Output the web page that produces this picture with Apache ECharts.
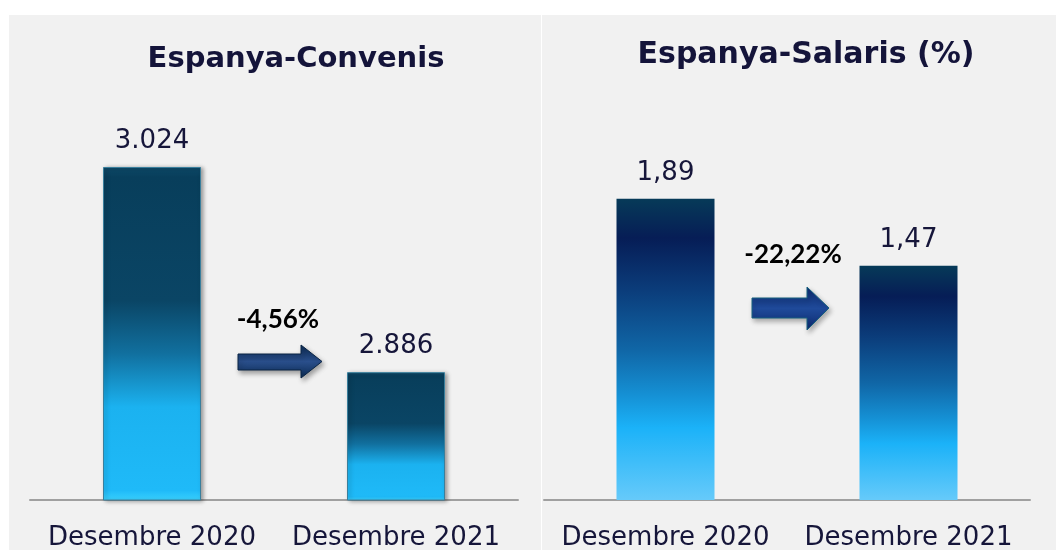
<!DOCTYPE html>
<html>
<head>
<meta charset="utf-8">
<script src="https://cdn.jsdelivr.net/npm/echarts@6/dist/echarts.min.js"></script>
<style>
  html, body { margin: 0; padding: 0; background: #ffffff; }
  #chart { width: 1056px; height: 550px; }
</style>
</head>
<body>
<div id="chart"></div>
<script>
// dades
let categories = ['Desembre 2020', 'Desembre 2021'];
let convenisValues = [3024, 2886];
let salarisValues = [1.89, 1.47];
let titles = ['Espanya-Convenis', 'Espanya-Salaris (%)'];
let changeLabels = ['-4,56%', '-22,22%'];

let textColor = '#16163a';

// format català: 3.024 / 1,89
function fmtThousands(v) {
    return String(v).replace(/\B(?=(\d{3})+(?!\d))/g, '.');
}
function fmtDecimal(v) {
    return v.toFixed(2).replace('.', ',');
}

// degradat barres convenis (amb bisell)
let convenisColor = new echarts.graphic.LinearGradient(0, 0, 0, 1, [
    {offset: 0, color: '#0e4a69'},
    {offset: 0.03, color: '#083e5b'},
    {offset: 0.40, color: '#0a4565'},
    {offset: 0.56, color: '#11709f'},
    {offset: 0.72, color: '#1bb2f0'},
    {offset: 0.97, color: '#1fbaf8'},
    {offset: 1, color: '#3ad2ff'}
]);

// degradat barres salaris
let salarisColor = new echarts.graphic.LinearGradient(0, 0, 0, 1, [
    {offset: 0, color: '#063a58'},
    {offset: 0.13, color: '#061d56'},
    {offset: 0.30, color: '#0b3c7a'},
    {offset: 0.50, color: '#1066a6'},
    {offset: 0.65, color: '#1590d4'},
    {offset: 0.76, color: '#1bb2f8'},
    {offset: 1, color: '#66cafa'}
]);

function arrowFill(a, b) {
    return new echarts.graphic.LinearGradient(0, 0, 0, 1, [
        {offset: 0, color: a},
        {offset: 0.5, color: b},
        {offset: 1, color: a}
    ]);
}

let axisLabelStyle = {
    interval: 0,
    fontFamily: 'DejaVu Sans',
    fontSize: 26,
    lineHeight: 26,
    color: textColor,
    margin: 25
};

let valueLabelStyle = {
    show: true,
    position: 'top',
    distance: 13,
    fontFamily: 'DejaVu Sans',
    fontSize: 26,
    lineHeight: 26,
    color: textColor
};

let option = {
    backgroundColor: '#ffffff',
    animation: false,
    grid: [
        {left: 30, width: 488, top: 54, bottom: 50, outerBoundsMode: 'none', containLabel: false},
        {left: 544, width: 486, top: 22, bottom: 50, outerBoundsMode: 'none', containLabel: false}
    ],
    xAxis: [
        {
            gridIndex: 0, type: 'category', data: categories,
            axisLine: {lineStyle: {color: '#a0a0a0', width: 2}},
            axisTick: {show: false},
            axisLabel: axisLabelStyle
        },
        {
            gridIndex: 1, type: 'category', data: categories,
            axisLine: {lineStyle: {color: '#a0a0a0', width: 2}},
            axisTick: {show: false},
            axisLabel: axisLabelStyle
        }
    ],
    yAxis: [
        {gridIndex: 0, type: 'value', min: 2800, max: 3100, show: false, splitLine: {show: false}},
        {gridIndex: 1, type: 'value', min: 0, max: 3, show: false, splitLine: {show: false}}
    ],
    series: [
        {
            type: 'bar',
            xAxisIndex: 0,
            yAxisIndex: 0,
            data: convenisValues,
            barWidth: 98,
            itemStyle: {
                color: convenisColor,
                borderColor: '#3a7f9c',
                borderWidth: 1,
                shadowColor: 'rgba(0,0,0,0.35)',
                shadowBlur: 4,
                shadowOffsetX: 2,
                shadowOffsetY: 1
            },
            label: Object.assign({}, valueLabelStyle, {
                formatter: function (p) { return fmtThousands(p.value); }
            })
        },
        {
            type: 'bar',
            xAxisIndex: 1,
            yAxisIndex: 1,
            data: salarisValues,
            barWidth: 98,
            itemStyle: {color: salarisColor},
            label: Object.assign({}, valueLabelStyle, {
                formatter: function (p) { return fmtDecimal(p.value); }
            })
        }
    ],
    graphic: [
        // panells de fons
        {type: 'rect', z: -10, silent: true, shape: {x: 9, y: 15, width: 532, height: 535}, style: {fill: '#f1f1f1'}},
        {type: 'rect', z: -10, silent: true, shape: {x: 542, y: 15, width: 514, height: 535}, style: {fill: '#f1f1f1'}},
        // títols
        {type: 'text', x: 296, y: 59, style: {text: titles[0], fontFamily: 'DejaVu Sans', fontWeight: 'bold', fontSize: 29, fill: '#14143a', align: 'center', verticalAlign: 'middle'}},
        {type: 'text', x: 806, y: 55, style: {text: titles[1], fontFamily: 'DejaVu Sans', fontWeight: 'bold', fontSize: 30, fill: '#14143a', align: 'center', verticalAlign: 'middle'}},
        // variacions
        {type: 'text', x: 278, y: 320, style: {text: changeLabels[0], fontFamily: 'Lato', fontWeight: 'bold', fontSize: 26, fill: '#000000', align: 'center', verticalAlign: 'middle'}},
        {type: 'text', x: 793, y: 255, style: {text: changeLabels[1], fontFamily: 'Lato', fontWeight: 'bold', fontSize: 26, fill: '#000000', align: 'center', verticalAlign: 'middle'}},
        // fletxes
        {
            type: 'polygon',
            shape: {points: [[238, 354], [301, 354], [301, 345], [322, 361.5], [301, 378], [301, 370], [238, 370]]},
            style: {
                fill: arrowFill('#0b2a52', '#2a4f8c'),
                stroke: '#0a2444',
                lineWidth: 1,
                shadowColor: 'rgba(0,0,0,0.35)',
                shadowBlur: 5,
                shadowOffsetX: 2,
                shadowOffsetY: 3
            }
        },
        {
            type: 'polygon',
            shape: {points: [[752, 298], [807, 298], [807, 287], [829, 308], [807, 330], [807, 318], [752, 318]]},
            style: {
                fill: arrowFill('#0d2a6e', '#1f4a9a'),
                stroke: '#17607e',
                lineWidth: 1,
                shadowColor: 'rgba(0,0,0,0.3)',
                shadowBlur: 5,
                shadowOffsetX: 2,
                shadowOffsetY: 3
            }
        }
    ]
};

let chart = echarts.init(document.getElementById('chart'));
chart.setOption(option);
</script>
</body>
</html>
